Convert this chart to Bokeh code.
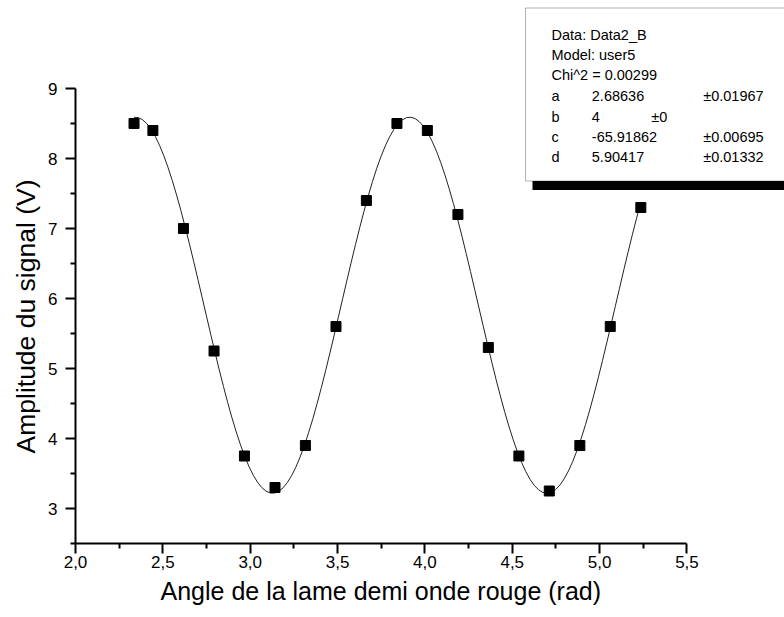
import numpy as np
from bokeh.plotting import figure
from bokeh.models import (FixedTicker, CustomJSTickFormatter, BoxAnnotation, Label,
                          LinearAxis, Range1d, Title)
from bokeh.embed import file_html
from bokeh.resources import INLINE

# ---- data ----
angle = [2.335, 2.443, 2.618, 2.793, 2.967, 3.142, 3.316, 3.491, 3.665,
         3.840, 4.014, 4.189, 4.363, 4.538, 4.712, 4.887, 5.061, 5.236]
amplitude = [8.5, 8.4, 7.0, 5.25, 3.75, 3.3, 3.9, 5.6, 7.4,
             8.5, 8.4, 7.2, 5.3, 3.75, 3.25, 3.9, 5.6, 7.3]

# fit parameters shown in the chart (model user5: y = a*cos(b*x + c) + d)
fit_a = 2.68636
fit_b = 4
fit_c = -65.91862
fit_d = 5.90417

legend_lines = ["Data: Data2_B", "Model: user5", "Chi^2 = 0.00299"]
param_names = ["a", "b", "c", "d"]
param_values = ["2.68636", "4", "-65.91862", "5.90417"]
param_errors = ["\u00b10.01967", "\u00b10", "\u00b10.00695", "\u00b10.01332"]

x_ticks = [2.0, 2.5, 3.0, 3.5, 4.0, 4.5, 5.0, 5.5]
x_minor = [2.25, 2.75, 3.25, 3.75, 4.25, 4.75, 5.25]
y_ticks = [3, 4, 5, 6, 7, 8, 9]
y_minor = [2.5, 3.5, 4.5, 5.5, 6.5, 7.5, 8.5]
x_title = "Angle de la lame demi onde rouge (rad)"
y_title = "Amplitude du signal (V)"

FONT = "Liberation Sans"

# ---- layout geometry (figure sits at the page origin) ----
W, H = 784, 617
BL = 75                    # frame left  (x = 2.0)
FB = 543                   # frame bottom (y = 2.5)
BB = H - FB
FW, FH = W - BL, FB        # frame fills to right and top edges
PX_X = 174.7               # pixels per x unit
PX_Y = 70.0                # pixels per y unit
x0, y0 = 2.0, 2.5
x1 = x0 + FW / PX_X
y1 = y0 + FH / PX_Y

def dx(px):
    return x0 + (px - BL) / PX_X

def dy(py):
    return y0 + (FB - py) / PX_Y

p = figure(width=W, height=H, output_backend="svg", toolbar_location=None,
           x_range=Range1d(x0, x1), y_range=Range1d(y0, y1),
           x_axis_location=None, y_axis_location=None,
           min_border_left=BL, min_border_bottom=BB, min_border_top=0,
           min_border_right=0)
p.outline_line_color = None
p.grid.visible = False
p.background_fill_color = "white"
p.border_fill_color = "white"

fmt = CustomJSTickFormatter(code="return tick.toFixed(1).replace('.', ',');")
xaxis = LinearAxis(ticker=FixedTicker(ticks=x_ticks, minor_ticks=x_minor),
                   formatter=fmt, bounds=(2.0, 5.5))
yaxis = LinearAxis(ticker=FixedTicker(ticks=y_ticks, minor_ticks=y_minor),
                   bounds=(2.5, 9.0))
for ax in (xaxis, yaxis):
    ax.axis_line_width = 2
    ax.axis_line_color = "black"
    ax.major_tick_line_width = 2
    ax.minor_tick_line_width = 2
    ax.major_tick_line_color = "black"
    ax.minor_tick_line_color = "black"
    ax.major_tick_out = 10
    ax.major_tick_in = 0
    ax.minor_tick_out = 5
    ax.minor_tick_in = 0
    ax.major_label_text_font = FONT
    ax.major_label_text_font_size = "17px"
    ax.major_label_text_color = "black"
xaxis.major_label_standoff = 2
yaxis.major_label_standoff = 8
p.add_layout(xaxis, "below")
p.add_layout(yaxis, "left")

# axis titles, centred on the drawn axes (titles shifted along the side panels)
xt = Title(text=x_title, align="left", offset=85, text_font=FONT,
           text_font_size="25px", text_font_style="normal", text_color="black",
           standoff=9)
yt = Title(text=y_title, align="left", offset=90, text_font=FONT,
           text_font_size="26.5px", text_font_style="normal", text_color="black",
           standoff=10)
p.add_layout(xt, "below")
p.add_layout(yt, "left")

# fit curve from the displayed parameters
xf = np.linspace(min(angle), max(angle), 120)
yf = fit_a * np.cos(fit_b * xf + fit_c) + fit_d
p.line(xf, yf, line_color="#222222", line_width=1)

p.scatter(angle, amplitude, marker="square", size=10, fill_color="black",
          line_color="black")

# ---- parameter box with shadow ----
shadow = BoxAnnotation(left=dx(532), right=x1 + 1, top=dy(16), bottom=dy(189.5),
                       fill_color="black", fill_alpha=1, line_color=None)
box = BoxAnnotation(left=dx(525), right=x1 + 1, top=dy(7.5), bottom=dy(180.5),
                    fill_color="white", fill_alpha=1, line_color="black",
                    line_width=1)
p.add_layout(shadow)
p.add_layout(box)

row_y = [34.3, 54.7, 74.3, 95.7, 116, 136.7, 156.7]
col_x = [551, 591.3, 702.7]
TS = "14.5px"
for i, t in enumerate(legend_lines):
    p.add_layout(Label(x=dx(col_x[0]), y=dy(row_y[i]), text=t, text_font=FONT,
                       text_font_size=TS, text_baseline="middle", text_color="black"))
for j, (n, v, e) in enumerate(zip(param_names, param_values, param_errors)):
    yy = dy(row_y[3 + j])
    p.add_layout(Label(x=dx(col_x[0]), y=yy, text=n, text_font=FONT,
                       text_font_size=TS, text_baseline="middle", text_color="black"))
    p.add_layout(Label(x=dx(col_x[1]), y=yy, text=v, text_font=FONT,
                       text_font_size=TS, text_baseline="middle", text_color="black"))
    ex = 650.7 if e == "\u00b10" else col_x[2]
    p.add_layout(Label(x=dx(ex), y=yy, text=e, text_font=FONT,
                       text_font_size=TS, text_baseline="middle", text_color="black"))

open("out.html", "w").write(file_html(p, INLINE))
